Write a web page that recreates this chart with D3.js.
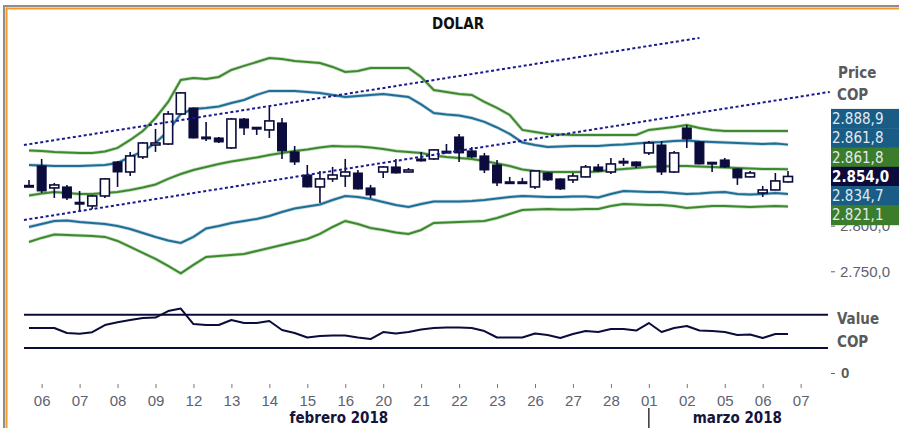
<!DOCTYPE html>
<html><head><meta charset="utf-8">
<script src="https://cdn.jsdelivr.net/npm/d3@7"></script>
<style>
body{margin:0;background:#fff;}
svg{display:block;font-family:"DejaVu Sans Condensed","DejaVu Sans",sans-serif;font-stretch:condensed;}
</style></head><body>
<svg id="c" width="899" height="428"></svg>
<script>
// ---------------- DATA ----------------
const title = "DOLAR";
const days = ["06","07","08","09","12","13","14","15","16","20","21","22","23","26","27","28","01","02","05","06","07"];
const months = [{label:"febrero 2018", firstDay:0, lastDay:15},{label:"marzo 2018", firstDay:16, lastDay:20}];
const candlesPerDay = 3;

const open  = [2843.0,2865.5,2841.4,2842.5,2824.9,2821.7,2832.6,2869.9,2858.9,2875.4,2888.5,2889.6,2922.5,2929.1,2896.8,2896.2,2885.3,2917.0,2907.2,2905.0,2912.7,2880.9,2855.6,2842.5,2851.3,2854.5,2857.8,2841.4,2858.9,2864.4,2858.9,2873.2,2873.2,2880.9,2897.3,2882.0,2876.5,2866.6,2847.4,2847.4,2842.5,2857.8,2851.3,2850.2,2853.5,2864.4,2858.9,2869.9,2869.9,2879.8,2888.5,2858.9,2907.2,2891.8,2868.8,2872.1,2862.2,2853.5,2835.9,2839.2,2848.0];
const high  = [2850.2,2873.2,2846.9,2844.7,2838.1,2833.7,2852.4,2871.0,2880.9,2891.8,2906.1,2925.8,2946.7,2929.6,2913.8,2897.3,2918.1,2918.1,2907.2,2930.2,2918.1,2887.4,2866.6,2860.0,2864.4,2873.2,2861.1,2844.7,2865.5,2873.2,2863.3,2880.9,2884.2,2889.6,2900.6,2886.3,2879.8,2872.1,2853.5,2852.4,2860.5,2858.9,2851.8,2857.8,2866.6,2867.7,2874.3,2874.3,2870.4,2892.9,2892.9,2882.0,2910.5,2892.9,2869.9,2874.3,2862.7,2860.0,2843.6,2857.8,2860.0];
const low   = [2842.5,2835.9,2830.4,2828.2,2815.1,2818.4,2830.4,2842.5,2854.5,2873.2,2880.9,2888.5,2921.4,2895.7,2892.9,2890.7,2884.2,2899.5,2899.5,2896.2,2873.2,2866.6,2842.0,2824.9,2848.0,2842.5,2839.8,2830.4,2852.4,2857.3,2858.4,2870.5,2872.1,2879.8,2869.9,2874.3,2857.8,2843.6,2846.4,2846.4,2840.3,2849.1,2839.2,2846.9,2853.0,2858.9,2856.7,2865.5,2863.3,2877.6,2855.6,2857.8,2885.3,2867.2,2858.9,2863.3,2844.7,2853.0,2831.5,2838.7,2847.5];
const close = [2843.4,2838.1,2844.7,2830.4,2824.4,2832.6,2851.3,2858.9,2876.5,2890.7,2890.7,2922.5,2945.6,2896.2,2895.7,2891.8,2917.0,2907.2,2906.6,2914.9,2882.0,2869.9,2842.5,2851.3,2855.6,2858.9,2840.3,2833.7,2864.4,2857.8,2861.1,2871.0,2883.1,2880.4,2879.8,2875.4,2861.1,2846.9,2846.9,2846.9,2860.0,2850.2,2840.3,2854.5,2864.4,2860.0,2867.7,2869.4,2865.5,2890.7,2858.9,2879.8,2895.1,2867.7,2868.3,2864.4,2852.4,2857.8,2839.2,2849.1,2854.0];

const bandOuterUpper = [2882.5,2882.0,2880.9,2880.3,2879.8,2879.8,2881.4,2885.3,2894.0,2903.9,2918.1,2935.7,2959.8,2962.0,2960.9,2963.1,2970.8,2975.2,2979.5,2983.9,2982.8,2980.6,2979.5,2978.4,2974.1,2968.6,2969.7,2973.0,2973.0,2973.0,2973.0,2963.1,2948.8,2946.7,2944.5,2943.4,2935.7,2929.1,2921.4,2905.0,2902.8,2900.6,2900.1,2899.5,2899.5,2899.5,2899.5,2899.5,2899.5,2905.0,2906.6,2908.3,2910.5,2907.2,2905.0,2903.9,2903.9,2903.9,2903.9,2903.9,2903.9];
const bandInnerUpper = [2866.6,2866.1,2865.5,2865.5,2865.5,2866.1,2866.6,2868.8,2875.4,2881.4,2890.7,2903.9,2922.5,2928.0,2929.1,2930.8,2934.6,2937.9,2943.4,2947.8,2947.8,2947.8,2946.7,2945.6,2943.4,2941.2,2942.3,2943.4,2944.5,2942.8,2941.2,2933.0,2923.6,2922.0,2920.9,2918.1,2913.8,2907.7,2900.6,2891.3,2888.5,2886.3,2886.9,2887.4,2887.4,2887.4,2888.5,2889.1,2890.2,2891.3,2891.8,2892.9,2893.5,2892.4,2891.8,2891.3,2890.7,2890.2,2889.6,2890.2,2888.9];
const bandMiddle     = [2833.2,2835.4,2837.0,2835.9,2834.8,2834.8,2835.9,2837.0,2839.2,2841.9,2845.2,2851.3,2856.7,2861.1,2864.4,2867.7,2870.4,2872.6,2874.8,2877.6,2879.8,2882.0,2883.6,2885.8,2887.4,2886.9,2886.9,2885.8,2884.2,2882.0,2880.9,2879.8,2877.0,2875.4,2874.3,2873.2,2871.0,2868.3,2865.5,2861.7,2860.0,2858.9,2858.9,2858.9,2858.9,2859.5,2861.1,2862.2,2863.3,2864.4,2865.0,2865.5,2865.5,2865.0,2864.4,2863.9,2863.3,2862.8,2862.2,2862.2,2861.8];
const bandInnerLower = [2798.6,2801.9,2805.2,2805.7,2804.1,2803.0,2801.9,2799.7,2796.4,2792.0,2787.7,2783.8,2781.1,2787.7,2797.0,2799.7,2803.0,2805.2,2807.4,2810.7,2815.1,2818.9,2821.1,2823.3,2828.2,2832.6,2831.5,2829.3,2826.0,2822.7,2820.5,2823.8,2826.6,2826.6,2826.6,2827.1,2828.2,2829.9,2831.5,2832.6,2832.1,2831.5,2831.5,2832.1,2832.1,2831.0,2834.8,2838.1,2837.6,2837.0,2837.0,2835.9,2834.8,2835.4,2836.5,2837.0,2834.8,2834.3,2834.8,2835.9,2834.7];
const bandOuterLower = [2782.2,2786.6,2790.4,2789.9,2789.3,2788.8,2787.7,2783.3,2776.7,2770.1,2763.6,2755.9,2747.7,2757.0,2765.7,2766.8,2767.9,2769.0,2772.3,2775.6,2778.9,2782.2,2785.5,2791.0,2798.6,2805.2,2801.9,2797.5,2795.3,2792.6,2791.0,2795.3,2803.0,2803.6,2804.1,2804.7,2805.2,2808.5,2812.9,2817.3,2817.8,2818.4,2817.8,2817.8,2818.4,2818.4,2821.7,2823.8,2823.3,2822.7,2822.7,2821.7,2819.5,2820.6,2821.7,2821.7,2821.1,2820.6,2821.1,2821.7,2821.1];

const trendChannel = [
  {i0:-0.4, v0:2888.5, i1:53.0, v1:3005.9},
  {i0:-0.4, v0:2806.3, i1:63.3, v1:2946.7}
];

const rsi = [54,54,54,48,47,49,57.6,61,63.6,66,66.6,74.4,77.4,58.8,57.6,57.6,63.6,60,60,62.4,51.6,48,42.6,44.4,45,45,42.6,40.8,49.2,47.4,49.2,52.2,54,54.6,54.6,54,50.4,42.6,42.6,42.6,47.4,45.6,42,46.8,50.4,49.2,52.8,52.8,51,60,49.2,54,56.4,51,50.4,49.2,45.6,46.2,42,46.8,46.8];
const rsiLevels = [70, 30];
const rsiTicks = [0];
const priceTicks = [2750, 2800];

const lastLabels = [
  {value:2888.9, kind:"blue"},
  {value:2861.8, kind:"blue"},
  {value:2861.8, kind:"green"},
  {value:2854.0, kind:"close"},
  {value:2834.7, kind:"blue"},
  {value:2821.1, kind:"green"}
];

// ---------------- STYLE ----------------
const C = {navy:"#0b0b3c", green:"#3d8a2e", blue:"#1f6e96", dotted:"#1a1a8e",
  boxBlue:"#195d86", boxGreen:"#3b7d2b", boxNavy:"#0b0b3c", gray:"#5d6272"};

const svg = d3.select("#c");
const plotLeft = 24, plotRight = 828;

const x = d3.scaleLinear().domain([0, 60]).range([29, 788]);
const y = d3.scaleLinear().domain([2750, 2800]).range([271.3, 225.7]);
const yr = d3.scaleLinear().domain([0, 100]).range([373, 289.7]);

// frame
svg.append("line").attr("x1",3).attr("x2",899).attr("y1",6).attr("y2",6).attr("stroke","#8e8e8e").attr("stroke-width",2);
svg.append("line").attr("x1",6).attr("x2",899).attr("y1",8.5).attr("y2",8.5).attr("stroke","#f39a2c").attr("stroke-width",2);
svg.append("line").attr("x1",4).attr("x2",4).attr("y1",5).attr("y2",428).attr("stroke","#8e8e8e").attr("stroke-width",2);
svg.append("line").attr("x1",6.5).attr("x2",6.5).attr("y1",7.5).attr("y2",428).attr("stroke","#f39a2c").attr("stroke-width",2);

// title
svg.append("text").attr("x",458).attr("y",29).attr("text-anchor","middle")
  .attr("font-size",15).attr("font-weight","bold").attr("fill","#111").text(title);

// price axis (right)
const fmtLocale = d3.formatLocale({decimal:",", thousands:".", grouping:[3], currency:["$",""]});
const fmt = fmtLocale.format(",.1f");
const pAxis = svg.append("g").attr("transform","translate(831,0)")
  .call(d3.axisRight(y).tickValues(priceTicks).tickSize(4).tickPadding(5).tickFormat(fmt));
pAxis.select(".domain").remove();
pAxis.selectAll("line").attr("stroke","#666");
pAxis.selectAll("text").attr("font-size",15).attr("fill",C.gray).attr("font-family",null);

// bands
const line = d3.line().x((d,i)=>x(i)).y(d=>y(d)).curve(d3.curveLinear);
function band(data, color){
  svg.append("path").attr("d",line(data)).attr("fill","none").attr("stroke",color).attr("stroke-opacity",0.3).attr("stroke-width",3.5);
  svg.append("path").attr("d",line(data)).attr("fill","none").attr("stroke",color).attr("stroke-width",2);
}
band(bandOuterUpper, C.green);
band(bandInnerUpper, C.blue);
band(bandInnerLower, C.blue);
band(bandOuterLower, C.green);
band(bandMiddle, C.green);

// candles
const cg = svg.append("g");
open.forEach((o,i)=>{
  const c = close[i], h = high[i], l = low[i];
  const cx = x(i);
  cg.append("line").attr("x1",cx).attr("x2",cx).attr("y1",y(h)).attr("y2",y(l))
    .attr("stroke",C.navy).attr("stroke-width",1.6);
  const top = y(Math.max(o,c)), bot = y(Math.min(o,c));
  const hgt = bot - top;
  if (hgt < 1.5) {
    cg.append("rect").attr("x",cx-5).attr("y",(top+bot)/2-1.5).attr("width",10).attr("height",3).attr("fill",C.navy);
  } else if (c >= o) {
    cg.append("rect").attr("x",cx-4.5).attr("y",top).attr("width",9).attr("height",hgt)
      .attr("fill","#fff").attr("stroke",C.navy).attr("stroke-width",1.6);
  } else {
    cg.append("rect").attr("x",cx-4.5).attr("y",top).attr("width",9).attr("height",hgt)
      .attr("fill",C.navy).attr("stroke",C.navy).attr("stroke-width",1);
  }
});

// trend channel (dotted)
trendChannel.forEach(t=>{
  svg.append("line").attr("x1",x(t.i0)).attr("y1",y(t.v0)).attr("x2",x(t.i1)).attr("y2",y(t.v1))
    .attr("stroke",C.dotted).attr("stroke-width",2).attr("stroke-dasharray","3,2.5");
});

// right labels
svg.append("text").attr("x",838).attr("y",78).attr("font-size",15).attr("font-weight","bold").attr("fill","#5a5a5a").text("Price");
svg.append("text").attr("x",837).attr("y",100).attr("font-size",15).attr("font-weight","bold").attr("fill","#5a5a5a").text("COP");

const boxH = 19.3;
const anchor = lastLabels.findIndex(d=>d.kind==="close");
const ly = lastLabels.map(d=>y(d.value));
for (let i=anchor-1;i>=0;i--) ly[i] = Math.min(ly[i], ly[i+1]-boxH);
for (let i=anchor+1;i<lastLabels.length;i++) ly[i] = Math.max(ly[i], ly[i-1]+boxH);
lastLabels.forEach((d,i)=>{
  const fill = d.kind==="blue"?C.boxBlue:d.kind==="green"?C.boxGreen:C.boxNavy;
  svg.append("rect").attr("x",831).attr("y",ly[i]-boxH/2).attr("width",68).attr("height",boxH+0.5).attr("fill",fill);
  svg.append("text").attr("x",832).attr("y",ly[i]).attr("dy","0.36em").attr("font-size",15)
    .attr("font-weight",d.kind==="close"?"bold":"normal")
    .attr("fill",d.kind==="close"?"#fff":"#e3e9ef").text(fmt(d.value));
});

// RSI panel
rsiLevels.forEach(v=>{
  svg.append("line").attr("x1",plotLeft).attr("x2",plotRight).attr("y1",yr(v)).attr("y2",yr(v))
    .attr("stroke",C.navy).attr("stroke-width",2);
});
const rline = d3.line().x((d,i)=>x(i)).y(d=>yr(d));
svg.append("path").attr("d",rline(rsi)).attr("fill","none").attr("stroke",C.navy).attr("stroke-width",2).attr("stroke-linejoin","round");
svg.append("text").attr("x",837).attr("y",324).attr("font-size",15).attr("font-weight","bold").attr("fill","#5a5a5a").text("Value");
svg.append("text").attr("x",837).attr("y",347).attr("font-size",15).attr("font-weight","bold").attr("fill","#5a5a5a").text("COP");
const rAxis = svg.append("g").attr("transform","translate(831,0)")
  .call(d3.axisRight(yr).tickValues(rsiTicks).tickSize(4).tickPadding(6).tickFormat(d3.format("d")));
rAxis.select(".domain").remove();
rAxis.selectAll("line").attr("stroke","#666");
rAxis.selectAll("text").attr("font-size",15).attr("font-weight","bold").attr("fill","#5a5a5a").attr("font-family",null);

// x axis
const tickIdx = days.map((d,i)=>i*candlesPerDay+1);
const xAxis = svg.append("g").attr("transform","translate(0,384)")
  .call(d3.axisBottom(x).tickValues(tickIdx).tickSize(4).tickPadding(7).tickFormat((v,i)=>days[i]));
xAxis.select(".domain").remove();
xAxis.selectAll("line").attr("stroke","#777");
xAxis.selectAll("text").attr("font-size",15).attr("fill",C.gray).attr("font-family",null);

months.forEach((m,k)=>{
  const a = m.firstDay*candlesPerDay, b = (m.lastDay+1)*candlesPerDay-1;
  svg.append("text").attr("x",x((a+b)/2+1)).attr("y",423).attr("text-anchor","middle")
    .attr("font-size",15).attr("font-weight","bold").attr("fill","#14143c").text(m.label);
  if (k>0) {
    const sx = x(m.firstDay*candlesPerDay+1);
    svg.append("line").attr("x1",sx).attr("x2",sx).attr("y1",408).attr("y2",428).attr("stroke","#333").attr("stroke-width",1.5);
  }
});
</script>
</body></html>
